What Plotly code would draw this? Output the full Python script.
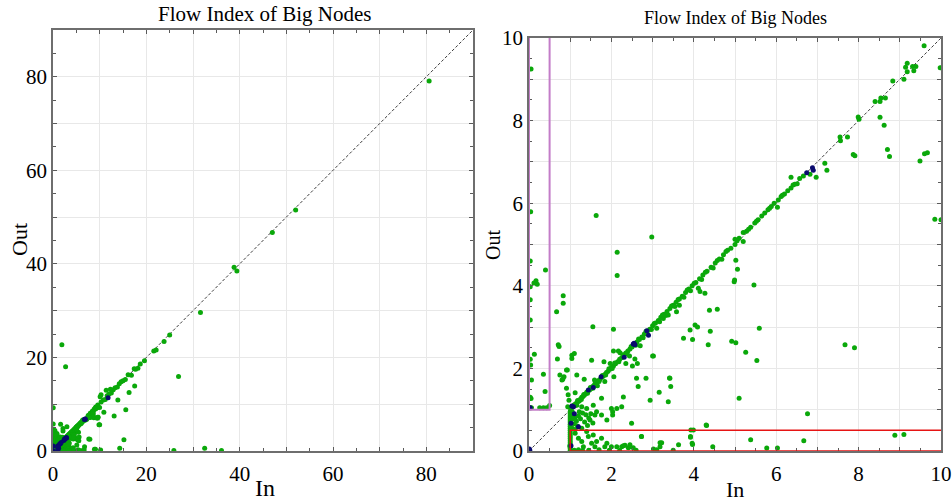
import plotly.graph_objects as go

# ---------------- data ----------------
# green points (In, Out)
green_in = [
    # diagonal band
    1.02, 1.05, 1.08, 1.10, 1.13, 1.16, 1.19, 1.22, 1.25, 1.28, 1.31, 1.34, 1.37, 1.40, 1.43, 1.47,
    1.50, 1.53, 1.57, 1.60, 1.64, 1.68, 1.72, 1.76, 1.80, 1.84, 1.88, 1.92, 1.96, 2.00, 2.05, 2.10,
    2.15, 2.20, 2.25, 2.30, 2.35, 2.40, 2.45, 2.50, 2.56, 2.62, 2.68, 2.74, 2.80, 2.87, 2.93, 3.00,
    3.07, 3.14, 3.20, 3.28, 3.35, 3.42, 3.50, 3.57, 3.65, 3.72, 3.80, 3.88, 3.96, 4.05, 4.14, 4.22,
    4.32, 4.42, 4.52, 4.62, 4.72, 4.82, 4.90, 5.00, 5.10, 5.20, 5.28, 5.38, 5.48, 5.56, 5.65, 5.72,
    5.80, 5.88, 5.95, 6.05, 6.12, 6.20, 6.28, 6.36, 6.45, 6.51, 6.57, 6.66, 6.82, 6.97, 6.36, 7.18,
    7.23, 7.55, 7.56, 7.73, 7.87, 7.91, 7.99, 8.01, 8.40, 8.52, 8.54, 8.65, 8.52, 8.62, 8.75, 8.83,
    9.10, 9.18, 9.14, 9.18, 9.31, 9.39, 9.34, 9.59, 9.49, 9.67, 9.85, 9.98,
    3.58, 3.65, 3.26, 4.11, 4.15, 4.27, 4.98, 4.99, 5.06, 5.00, 5.20, 6.03,
    # second pass along the dense part of the band
    1.04, 1.12, 1.18, 1.27, 1.33, 1.42, 1.49, 1.55, 1.62, 1.70, 1.78, 1.86, 1.94, 2.02, 2.08, 2.18,
    2.28, 2.38, 2.48, 2.59, 2.66, 2.77, 2.84, 2.97, 3.04, 3.17, 3.24, 3.32, 3.46, 3.54, 3.62, 3.76,
    3.84, 3.92, 4.01, 4.19, 4.28, 4.47, 4.57, 4.68, 4.78, 5.05, 5.33, 5.52, 5.84, 6.15, 6.41,
    2.21, 2.70, 3.10, 1.66, 1.97, 2.44, 3.38,
    # purple box (In < 0.5, Out > 1)
    0.05, 0.04, 0.03, 0.17, 0.20, 0.40, 0.03, 0.03, 0.03, 0.13, 0.06, 0.35, 0.39, 0.05, 0.03, 0.06,
    0.26, 0.35, 0.43, 0.50, 0.03, 0.04, 0.12, 0.03,
    # scattered 0.5 - 3.5
    0.83, 0.83, 0.67, 0.73, 0.69, 0.82, 0.85, 0.93, 1.04, 0.91, 0.95, 0.97, 0.71, 0.91, 0.75, 0.80,
    1.04, 1.10, 0.94, 1.63, 2.14, 2.14, 2.98, 1.55, 2.05, 2.05, 2.17, 2.35, 2.51, 2.57, 1.52, 1.82,
    1.34, 1.16, 1.59, 1.84, 2.06, 1.76, 1.12, 1.16, 1.28, 1.40, 1.56, 1.60, 1.64, 1.76, 1.89, 2.00,
    2.03, 2.03, 2.13, 2.25, 2.29, 2.49, 2.61, 2.65, 2.73, 2.94, 3.02, 3.38, 3.42, 3.44, 3.00, 2.63,
    2.84, 3.16, 3.41, 1.48,
    # scattered 3.5 - 10
    3.75, 3.91, 3.97, 4.03, 4.09, 4.35, 4.38, 4.57, 4.92, 5.02, 5.10, 5.46, 5.59, 5.26, 5.53, 7.67,
    6.76, 4.31, 5.02, 4.40,
    # vertical at In = 1
    1.00, 1.00, 1.00, 1.00, 1.00, 1.00, 1.00, 1.00, 1.00, 1.00, 1.00, 1.00, 1.00, 1.00, 1.00, 1.00,
    1.00, 1.00, 1.00, 1.00, 1.01, 0.99,
    # just right of In = 1, Out 0.5 - 1
    1.05, 1.08, 1.12, 1.06, 1.15, 1.10, 1.20, 1.25, 1.18, 1.30, 1.35, 1.28, 1.42, 1.45, 1.05, 1.12,
    1.50, 1.55, 1.38, 1.22,
    # red box (Out < 0.5)
    1.12, 1.20, 1.28, 1.32, 1.40, 1.44, 1.52, 1.56, 1.60, 1.64, 1.76, 1.84, 1.89, 2.00, 2.13, 2.25,
    2.33, 2.41, 2.53, 2.73, 3.18, 3.92, 3.96, 3.99, 3.63, 2.29, 2.45, 3.18, 3.02, 3.22, 3.93, 3.92,
    3.97, 4.30, 4.46, 5.38, 5.77, 6.03, 6.67, 8.88, 2.45,
    1.10, 1.20, 1.30, 1.45, 1.70, 1.95, 2.20, 2.60, 3.10, 3.50,
    # beyond 10 (left panel only)
    10.3, 10.8, 11.2, 11.6, 12.0, 12.5, 12.9, 13.3, 13.8, 14.2, 14.6, 15.0, 15.5, 16.1, 16.8, 17.4,
    17.7, 18.2, 18.7, 19.6, 21.6, 22.1, 23.8, 25.0, 11.4, 12.3, 13.9, 10.9, 8.7, 9.6, 10.1, 10.3,
    16.3, 17.5, 15.6, 13.1, 10.0, 15.2, 7.9, 26.9, 31.6, 38.8, 39.4, 47.0, 52.0, 80.6, 1.9, 2.7,
    32.5, 9.1, 10.2, 14.3, 25.9, 36.1,
]
green_out = [
    # diagonal band
    1.03, 1.06, 1.10, 1.12, 1.14, 1.17, 1.20, 1.21, 1.26, 1.30, 1.32, 1.35, 1.38, 1.42, 1.44, 1.48,
    1.51, 1.55, 1.58, 1.62, 1.65, 1.70, 1.73, 1.78, 1.81, 1.85, 1.90, 1.93, 1.98, 2.02, 2.06, 2.11,
    2.16, 2.22, 2.26, 2.32, 2.37, 2.42, 2.47, 2.52, 2.58, 2.64, 2.70, 2.76, 2.83, 2.89, 2.95, 3.03,
    3.10, 3.16, 3.24, 3.31, 3.38, 3.45, 3.53, 3.60, 3.68, 3.75, 3.84, 3.92, 4.00, 4.08, 4.17, 4.26,
    4.35, 4.45, 4.55, 4.65, 4.75, 4.86, 4.91, 5.00, 5.15, 5.29, 5.32, 5.42, 5.52, 5.60, 5.69, 5.76,
    5.84, 5.92, 6.00, 6.08, 6.16, 6.22, 6.30, 6.37, 6.46, 6.47, 6.60, 6.66, 6.70, 6.63, 6.63, 6.97,
    6.80, 7.60, 7.51, 7.60, 7.18, 7.15, 8.09, 8.03, 8.46, 8.46, 8.55, 8.55, 8.08, 7.89, 7.13, 8.96,
    9.00, 9.39, 9.29, 9.18, 9.31, 9.31, 9.21, 9.81, 7.02, 7.22, 5.61, 9.28,
    3.37, 3.53, 3.21, 3.94, 3.86, 3.82, 4.10, 4.14, 4.40, 5.13, 5.07, 5.90,
    # second pass along the dense part of the band
    1.07, 1.10, 1.22, 1.25, 1.37, 1.40, 1.54, 1.52, 1.67, 1.68, 1.83, 1.84, 1.99, 2.00, 2.13, 2.16,
    2.33, 2.35, 2.53, 2.56, 2.71, 2.74, 2.90, 2.94, 3.09, 3.13, 3.29, 3.28, 3.51, 3.50, 3.67, 3.72,
    3.90, 3.88, 4.06, 4.15, 4.33, 4.43, 4.61, 4.64, 4.83, 5.09, 5.37, 5.56, 5.88, 6.19, 6.44,
    2.38, 2.55, 2.97, 1.58, 2.12, 2.30, 3.29,
    # purple box
    9.25, 5.79, 4.60, 4.12, 4.04, 4.38, 3.98, 3.66, 3.17, 2.34, 1.72, 1.86, 1.44, 1.27, 1.05, 1.05,
    1.05, 1.05, 1.05, 1.10, 2.22, 2.08, 4.07, 1.30,
    # scattered 0.5 - 3.5
    3.76, 3.58, 3.37, 2.53, 2.23, 1.74, 1.80, 1.96, 2.24, 1.52, 1.36, 1.23, 2.57, 1.96, 1.84, 1.72,
    2.32, 2.36, 1.07, 5.70, 4.81, 4.25, 5.18, 3.01, 2.95, 2.42, 2.42, 2.12, 2.06, 2.23, 2.20, 2.16,
    1.74, 1.84, 1.72, 1.68, 1.80, 1.28, 1.41, 1.11, 1.07, 1.03, 1.11, 0.87, 0.95, 0.87, 0.75, 1.03,
    0.95, 0.87, 1.03, 1.07, 1.31, 0.67, 1.76, 1.56, 0.35, 1.23, 2.30, 1.19, 1.76, 1.56, 2.30, 2.12,
    1.76, 1.42, 1.77, 0.75,
    # scattered 3.5 - 10
    2.73, 2.93, 2.70, 3.05, 3.00, 2.57, 3.41, 3.43, 2.66, 2.62, 1.28, 4.02, 2.97, 2.39, 2.19, 2.57,
    0.90, 0.62, 4.62, 2.90,
    # vertical at In = 1
    0.02, 0.06, 0.10, 0.15, 0.20, 0.25, 0.30, 0.35, 0.40, 0.45, 0.50, 0.55, 0.60, 0.65, 0.70, 0.75,
    0.80, 0.85, 0.90, 0.95, 0.98, 0.12,
    # just right of In = 1
    0.95, 0.88, 0.82, 0.78, 0.72, 0.66, 0.85, 0.78, 0.60, 0.92, 0.70, 0.55, 0.62, 0.80, 0.55, 0.52,
    0.90, 0.68, 0.88, 0.95,
    # red box
    0.43, 0.31, 0.23, 0.10, 0.47, 0.35, 0.19, 0.39, 0.10, 0.23, 0.31, 0.10, 0.19, 0.10, 0.10, 0.10,
    0.14, 0.08, 0.08, 0.35, 0.20, 0.35, 0.19, 0.51, 0.15, 0.13, 0.10, 0.10, 0.05, 0.20, 0.51, 0.33,
    0.16, 0.63, 0.10, 0.27, 0.07, 0.07, 0.25, 0.38, 0.15,
    0.02, 0.03, 0.01, 0.02, 0.03, 0.02, 0.01, 0.02, 0.03, 0.02,
    # beyond 10
    10.5, 10.9, 11.0, 11.8, 12.2, 12.4, 13.1, 13.5, 13.7, 14.4, 14.8, 15.0, 15.3, 16.3, 16.2, 17.6,
    17.5, 17.7, 18.6, 19.3, 21.4, 21.6, 23.4, 24.8, 13.0, 13.2, 10.9, 8.3, 7.3, 7.2, 11.6, 12.0,
    12.5, 13.9, 8.8, 7.5, 5.6, 2.4, 2.5, 15.9, 29.6, 39.3, 38.5, 46.7, 51.5, 79.1, 22.7, 18.0,
    0.6, 0.4, 0.2, 0.6, 0.1, 0.1,
]

# dark blue points (In, Out)
navy_in = [1.04, 1.08, 1.44, 1.56, 1.75, 2.31, 2.53, 2.55, 2.86, 2.57, 1.02, 1.20, 1.02, 0.02, 0.01,
           0.03, 6.88, 6.74, 11.8, 6.9, 2.9, 1.1]
navy_out = [1.09, 1.07, 1.48, 1.54, 1.80, 2.27, 2.59, 2.61, 2.91, 2.57, 0.67, 0.59, 0.13, 0.02, 0.05,
            1.05, 6.86, 6.74, 11.4, 6.8, 2.8, 0.9]

# reference diagonal and highlighted regions
diag_left = [0, 90]
diag_right = [0, 10]
purple_box = (0, 0.5, 1, 10)   # x0, x1, y0, y1
red_box = (1, 10, 0, 0.5)

left_ticks = [0, 10, 20, 30, 40, 50, 60, 70, 80, 90]
left_text = ["0", "", "20", "", "40", "", "60", "", "80", ""]
right_ticks = [0, 1, 2, 3, 4, 5, 6, 7, 8, 9, 10]
right_text = ["0", "", "2", "", "4", "", "6", "", "8", "", "10"]

title_text = "Flow Index of Big Nodes"

# ---------------- figure ----------------
SERIF = "Liberation Serif"
GREEN = "rgb(10,168,10)"
NAVY = "rgb(10,10,110)"

fig = go.Figure()
for xa, ya, dg in (("x", "y", diag_left), ("x2", "y2", diag_right)):
    fig.add_trace(go.Scatter(x=dg, y=dg, mode="lines", xaxis=xa, yaxis=ya,
                             line=dict(color="rgb(60,60,60)", width=1, dash="3px,2px"),
                             showlegend=False, hoverinfo="skip"))
    fig.add_trace(go.Scatter(x=green_in, y=green_out, mode="markers", xaxis=xa, yaxis=ya,
                             marker=dict(color=GREEN, size=5), showlegend=False))
    fig.add_trace(go.Scatter(x=navy_in, y=navy_out, mode="markers", xaxis=xa, yaxis=ya,
                             marker=dict(color=NAVY, size=5), showlegend=False))

W, H = 952, 504
def dom(a, b, total):
    return [a / total, b / total]

axis_common = dict(
    showline=True, linecolor="rgb(110,110,110)", linewidth=1.5, mirror="ticks",
    ticks="inside", ticklen=4, tickcolor="rgb(90,90,90)", tickwidth=1,
    showgrid=True, gridcolor="rgb(232,232,232)", gridwidth=1, zeroline=False,
    tickfont=dict(family=SERIF, size=21, color="black"), automargin=False,
)

fig.update_layout(
    width=W, height=H, margin=dict(l=0, r=0, t=0, b=0),
    paper_bgcolor="white", plot_bgcolor="white",
    xaxis=dict(domain=dom(53, 473, W), range=[0, 90], tickvals=left_ticks, ticktext=left_text,
               minor=dict(dtick=5, ticks="inside", ticklen=3, tickcolor="rgb(90,90,90)", showgrid=False),
               anchor="y", ticklabelstandoff=3, **axis_common),
    yaxis=dict(domain=[(H - 451) / H, (H - 30) / H], range=[0, 90], tickvals=left_ticks,
               ticktext=left_text,
               minor=dict(dtick=5, ticks="inside", ticklen=3, tickcolor="rgb(90,90,90)", showgrid=False),
               anchor="x", **axis_common),
    xaxis2=dict(domain=dom(529, 941, W), range=[0, 10], tickvals=right_ticks, ticktext=right_text,
                minor=dict(dtick=0.5, ticks="inside", ticklen=3, tickcolor="rgb(90,90,90)", showgrid=False),
                anchor="y2", ticklabelstandoff=3, **axis_common),
    yaxis2=dict(domain=[(H - 451) / H, (H - 38) / H], range=[0, 10], tickvals=right_ticks,
                ticktext=right_text,
                minor=dict(dtick=0.5, ticks="inside", ticklen=3, tickcolor="rgb(90,90,90)", showgrid=False),
                anchor="x2", **axis_common),
)

# open-topped purple frame (top edge coincides with the plot border)
px0, px1, py0, py1 = purple_box
fig.add_shape(type="path", xref="x2", yref="y2",
              path=f"M {px0},{py1} L {px0},{py0} L {px1},{py0} L {px1},{py1}",
              line=dict(color="rgb(195,125,200)", width=2))
# red frame, right edge coincides with the plot border
rx0, rx1, ry0, ry1 = red_box
fig.add_shape(type="path", xref="x2", yref="y2",
              path=f"M {rx1},{ry1} L {rx0},{ry1} L {rx0},{ry0} L {rx1},{ry0}",
              line=dict(color="rgb(230,20,20)", width=1.5))

def ann(text, x, y, size, angle=0):
    fig.add_annotation(text=text, x=x / W, y=1 - y / H, xref="paper", yref="paper",
                       showarrow=False, textangle=angle,
                       font=dict(family=SERIF, size=size, color="black"),
                       xanchor="center", yanchor="middle")

ann(title_text, 265, 14, 21)
ann(title_text, 735, 18, 18)
ann("In", 265, 488, 24)
ann("Out", 19, 240, 22, -90)
ann("In", 735, 489, 22)
ann("Out", 493, 245, 20, -90)

fig.write_html("out.html")
